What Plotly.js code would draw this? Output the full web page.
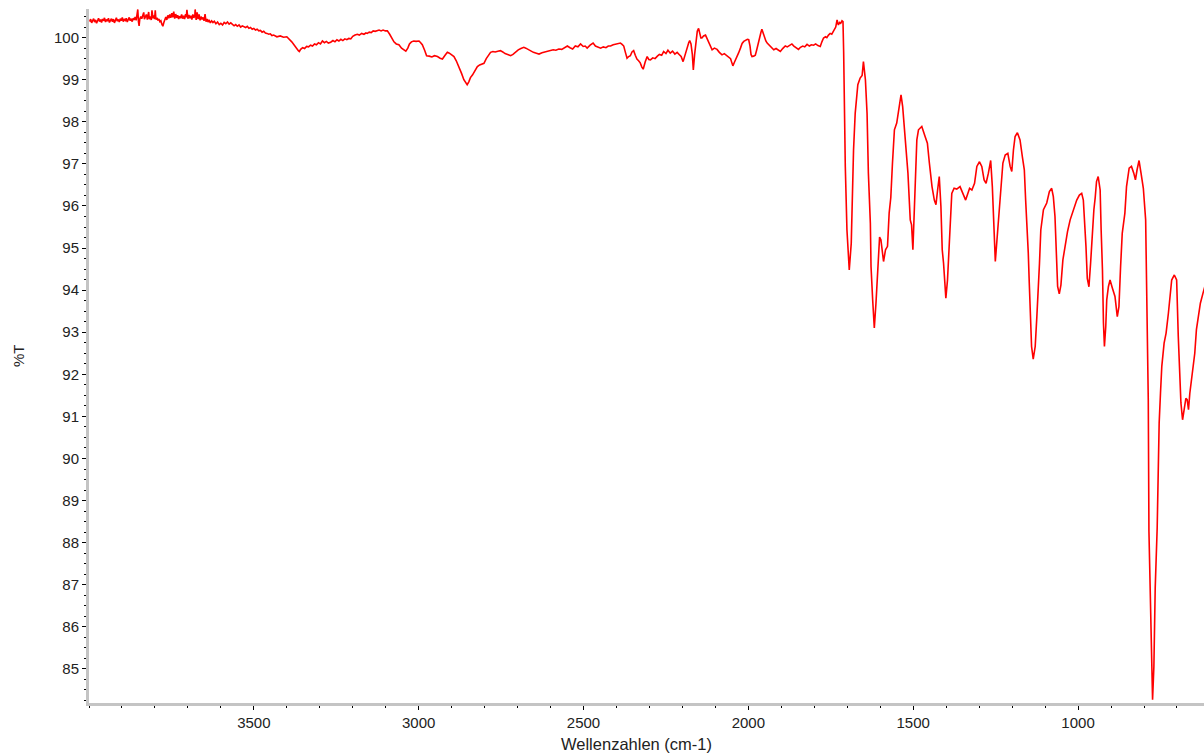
<!DOCTYPE html>
<html>
<head>
<meta charset="utf-8">
<script src="https://cdn.plot.ly/plotly-3.0.1.min.js"></script>
<style>html,body{margin:0;padding:0;background:#fff;}#chart{width:1204px;height:755px;}</style>
</head>
<body>
<div id="chart"></div>
<script>
// Wavenumbers (cm-1) and transmittance (%T)
const wavenumber = [3998,3995,3992,3989,3986,3983,3980,3977,3974,3971,3968,3965,3962,3959,3956,3953,3950,3947,3944,3941,3938,3935,3932,3929,3926,3923,3920,3917,3914,3911,3908,3905,3902,3899,3896,3893,3890,3887,3884,3881,3878,3875,3872,3869,3866,3863,3860,3857,3854,3852,3850,3848,3846,3843,3840,3837,3834,3832,3829,3826,3823,3821,3819,3817,3814,3811,3809,3806,3803,3801,3799,3797,3794,3791,3788,3785,3782,3779,3776,3773,3770,3767,3764,3761,3758,3755,3752,3749,3746,3743,3740,3737,3734,3731,3728,3725,3722,3719,3716,3713,3710,3707,3705,3703,3700,3697,3694,3691,3688,3685,3682,3679,3678,3675,3672,3669,3666,3663,3660,3657,3654,3651,3648,3645,3642,3639,3636,3632,3628,3624,3620,3615,3610,3605,3600,3595,3590,3585,3580,3575,3570,3565,3560,3555,3550,3545,3540,3535,3530,3525,3520,3515,3510,3505,3500,3495,3490,3485,3480,3475,3470,3465,3460,3455,3450,3445,3440,3435,3430,3420,3410,3400,3395,3390,3385,3380,3375,3370,3365,3362,3358,3352,3346,3340,3334,3328,3322,3316,3310,3304,3298,3292,3286,3280,3274,3267,3260,3254,3248,3242,3236,3230,3224,3218,3212,3206,3200,3193,3186,3180,3173,3166,3160,3156,3150,3144,3138,3132,3126,3120,3114,3108,3101,3095,3088,3082,3075,3068,3060,3052,3045,3039,3033,3028,3022,3015,3008,2999,2994,2989,2982,2976,2968,2960,2952,2943,2935,2928,2920,2913,2907,2900,2893,2886,2878,2870,2863,2856,2853,2848,2843,2837,2830,2822,2815,2808,2802,2795,2788,2782,2775,2768,2757,2752,2745,2738,2730,2721,2714,2706,2698,2690,2681,2675,2668,2660,2652,2643,2635,2626,2617,2608,2600,2592,2584,2575,2566,2557,2549,2541,2533,2525,2517,2509,2501,2495,2489,2480,2471,2464,2456,2448,2440,2432,2425,2418,2410,2402,2395,2388,2383,2378,2373,2368,2363,2358,2353,2348,2343,2338,2333,2328,2323,2319,2313,2307,2302,2297,2290,2283,2276,2270,2263,2257,2250,2244,2237,2230,2223,2216,2210,2204,2198,2192,2186,2181,2178,2174,2170,2167,2163,2159,2155,2151,2147,2144,2141,2136,2130,2125,2120,2115,2110,2103,2095,2088,2080,2073,2066,2060,2054,2050,2047,2042,2036,2030,2024,2019,2014,2008,2003,1999,1995,1992,1989,1984,1979,1975,1971,1966,1962,1959,1955,1951,1947,1943,1937,1930,1923,1916,1910,1903,1896,1888,1882,1875,1868,1862,1855,1848,1842,1835,1829,1822,1815,1809,1802,1796,1789,1782,1777,1772,1766,1762,1757,1752,1747,1742,1738,1735,1731,1729,1727,1723,1720,1716,1713,1711,1709,1706,1701,1697,1694,1688,1685,1681,1676,1668,1661,1655,1651,1645,1640,1636,1630,1628,1623,1618,1613,1608,1605,1602,1598,1594,1590,1584,1578,1573,1568,1563,1557,1550,1545,1537,1532,1527,1521,1516,1509,1505,1501,1497,1494,1489,1484,1474,1464,1457,1451,1443,1436,1431,1426,1421,1416,1412,1408,1401,1396,1391,1386,1383,1376,1368,1358,1350,1341,1329,1322,1314,1307,1299,1292,1285,1279,1272,1265,1260,1257,1254,1251,1246,1241,1236,1233,1228,1221,1213,1206,1201,1196,1191,1184,1176,1169,1163,1159,1154,1151,1148,1144,1141,1136,1130,1125,1120,1117,1113,1105,1095,1087,1080,1075,1070,1067,1065,1062,1057,1052,1046,1039,1032,1024,1014,1004,996,989,984,979,976,972,967,962,957,952,948,944,939,933,930,926,923,920,916,913,908,903,896,888,881,876,871,866,858,853,845,838,831,826,821,815,809,802,795,792,787,785,780,776,774,770,766,760,757,754,750,746,739,733,726,721,716,708,701,696,691,688,683,678,673,669,665,661,653,646,641,633,629,621,615];
const transmittance = [100.38,100.44,100.35,100.41,100.45,100.37,100.42,100.34,100.40,100.46,100.38,100.43,100.36,100.44,100.40,100.47,100.37,100.43,100.39,100.46,100.36,100.42,100.45,100.38,100.44,100.35,100.41,100.47,100.39,100.43,100.37,100.45,100.40,100.48,100.38,100.44,100.41,100.46,100.37,100.43,100.48,100.40,100.45,100.38,100.46,100.42,100.49,100.41,100.52,100.67,100.38,100.28,100.44,100.50,100.45,100.52,100.60,100.44,100.49,100.55,100.43,100.50,100.61,100.44,100.50,100.42,100.65,100.46,100.53,100.44,100.65,100.43,100.47,100.41,100.44,100.38,100.40,100.32,100.27,100.36,100.43,100.49,100.42,100.53,100.46,100.55,100.47,100.58,100.48,100.62,100.45,100.56,100.47,100.53,100.44,100.51,100.46,100.55,100.45,100.52,100.44,100.56,100.48,100.66,100.45,100.54,100.46,100.52,100.43,100.55,100.47,100.53,100.67,100.42,100.60,100.44,100.55,100.41,100.50,100.43,100.48,100.40,100.56,100.38,100.44,100.37,100.42,100.35,100.40,100.36,100.39,100.33,100.37,100.31,100.34,100.30,100.36,100.33,100.37,100.32,100.35,100.31,100.28,100.31,100.27,100.30,100.25,100.28,100.26,100.24,100.27,100.22,100.24,100.20,100.22,100.18,100.20,100.16,100.17,100.13,100.15,100.11,100.10,100.08,100.09,100.05,100.06,100.03,100.02,100.04,100.01,100.02,99.98,99.96,99.90,99.85,99.79,99.74,99.69,99.67,99.72,99.76,99.74,99.79,99.78,99.82,99.80,99.85,99.83,99.88,99.85,99.92,99.88,99.91,99.87,99.89,99.93,99.90,99.95,99.92,99.96,99.93,99.97,99.95,99.98,99.97,100.03,100.06,100.08,100.06,100.10,100.08,100.11,100.10,100.13,100.12,100.16,100.15,100.17,100.18,100.16,100.18,100.16,100.16,100.08,100.00,99.90,99.85,99.83,99.75,99.70,99.68,99.75,99.85,99.90,99.92,99.91,99.92,99.88,99.83,99.70,99.57,99.56,99.54,99.57,99.55,99.51,99.49,99.58,99.65,99.63,99.58,99.55,99.45,99.31,99.15,99.00,98.90,98.88,98.95,99.05,99.11,99.22,99.31,99.35,99.37,99.39,99.50,99.60,99.65,99.67,99.66,99.68,99.69,99.66,99.62,99.60,99.57,99.60,99.66,99.71,99.74,99.77,99.75,99.72,99.68,99.65,99.63,99.61,99.64,99.66,99.68,99.69,99.71,99.70,99.73,99.72,99.76,99.80,99.76,99.73,99.80,99.78,99.85,99.79,99.80,99.75,99.82,99.87,99.80,99.78,99.75,99.78,99.76,99.80,99.80,99.83,99.85,99.86,99.87,99.84,99.80,99.65,99.51,99.55,99.57,99.66,99.69,99.58,99.49,99.45,99.40,99.30,99.25,99.42,99.55,99.48,99.47,99.52,99.50,99.56,99.60,99.58,99.67,99.62,99.70,99.63,99.68,99.61,99.65,99.60,99.55,99.43,99.60,99.78,99.88,99.93,99.85,99.60,99.23,99.60,99.95,100.15,100.22,100.08,99.99,99.99,100.04,100.06,99.98,99.88,99.82,99.71,99.75,99.72,99.65,99.59,99.62,99.57,99.55,99.50,99.40,99.33,99.42,99.55,99.63,99.75,99.86,99.91,99.93,99.96,99.95,99.80,99.60,99.55,99.56,99.58,99.70,99.85,99.99,100.12,100.20,100.10,99.98,99.92,99.87,99.82,99.76,99.71,99.74,99.70,99.67,99.74,99.80,99.78,99.82,99.85,99.80,99.76,99.72,99.77,99.80,99.78,99.84,99.80,99.83,99.82,99.85,99.81,99.79,99.90,99.99,100.02,100.00,100.06,100.10,100.08,100.14,100.20,100.25,100.42,100.32,100.30,100.36,100.34,100.40,100.38,99.67,98.52,96.94,95.43,94.80,94.48,95.11,96.14,97.33,98.20,98.88,99.04,99.10,99.43,99.00,98.20,96.78,95.59,94.56,93.77,93.10,93.69,94.32,94.84,95.26,95.20,94.88,94.68,94.96,95.04,95.83,96.20,97.01,97.81,97.97,98.24,98.64,98.36,97.89,97.41,96.78,95.67,95.55,94.96,95.75,96.14,97.57,97.81,97.89,97.65,97.49,97.02,96.46,96.14,96.03,96.38,96.70,95.99,94.96,94.64,93.81,94.24,95.11,95.99,96.30,96.42,96.40,96.46,96.30,96.14,96.42,96.38,96.54,96.94,97.05,96.94,96.62,96.54,96.78,97.08,96.46,95.67,95.35,94.68,95.19,95.67,96.14,96.46,97.02,97.21,97.25,96.94,96.82,97.33,97.65,97.74,97.57,97.17,96.86,96.14,95.43,94.88,94.17,93.37,92.66,92.36,92.66,93.37,94.00,94.64,95.43,95.91,96.07,96.34,96.42,96.22,95.75,95.19,94.56,94.09,93.91,94.12,94.72,95.11,95.39,95.67,95.91,96.14,96.26,96.30,96.14,95.51,95.04,94.28,94.08,94.64,95.35,95.91,96.20,96.58,96.70,96.38,95.43,94.48,93.22,92.66,93.13,93.77,94.08,94.24,94.05,93.85,93.37,93.61,94.56,95.35,95.83,96.46,96.90,96.94,96.78,96.62,96.86,97.08,96.78,96.42,95.67,93.93,91.39,88.27,86.01,84.50,84.27,85.06,86.92,88.35,89.81,90.84,91.55,92.19,92.74,92.98,93.45,93.93,94.24,94.36,94.24,92.90,91.79,91.32,90.92,91.24,91.43,91.40,91.16,91.55,92.03,92.50,93.06,93.45,93.69,93.93,94.10];
const xTickValues = [3500, 3000, 2500, 2000, 1500, 1000];
const xTickLabels = ["3500", "3000", "2500", "2000", "1500", "1000"];
const yTickValues = [85,86,87,88,89,90,91,92,93,94,95,96,97,98,99,100];
const yTickLabels = yTickValues.map(String);
const xTitle = 'Wellenzahlen (cm-1)';
const yTitle = '%T';

const FONT = '"Liberation Sans", Arial, sans-serif';

const trace = {
  x: wavenumber,
  y: transmittance,
  type: 'scatter',
  mode: 'lines',
  line: {color: '#ff0000', width: 1.6},
  hoverinfo: 'x+y'
};

const axisCommon = {
  autorange: false,
  tickmode: 'array',
  ticks: 'outside',
  ticklen: 4,
  tickwidth: 1,
  tickcolor: '#000000',
  showline: true,
  linecolor: '#c4c4c4',
  linewidth: 3,
  showgrid: false,
  zeroline: false,
  tickfont: {family: FONT, size: 15, color: '#222222'}
};

const layout = {
  width: 1204,
  height: 755,
  margin: {l: 89, r: 0, t: 9, b: 52, pad: 0},
  paper_bgcolor: '#ffffff',
  plot_bgcolor: '#ffffff',
  showlegend: false,
  font: {family: FONT, size: 15, color: '#222222'},
  xaxis: Object.assign({}, axisCommon, {
    range: [4000, 618],
    tickvals: xTickValues,
    ticktext: xTickLabels,
    minor: {dtick: 100, tick0: 0, ticks: 'outside', ticklen: 2, tickwidth: 1, tickcolor: '#000000', showgrid: false}
  }),
  yaxis: Object.assign({}, axisCommon, {
    range: [84.19, 100.68],
    tickvals: yTickValues,
    ticktext: yTickLabels,
    minor: {dtick: 0.25, tick0: 0, ticks: 'outside', ticklen: 2, tickwidth: 1, tickcolor: '#000000', showgrid: false}
  }),
  annotations: [
    {text: xTitle, xref: 'paper', yref: 'paper', x: 0.491, y: 0, yshift: -41, xanchor: 'center', yanchor: 'middle',
     showarrow: false, font: {family: FONT, size: 16.5, color: '#222222'}},
    {text: yTitle, xref: 'paper', yref: 'paper', x: 0, xshift: -71, y: 0.5, xanchor: 'center', yanchor: 'middle',
     textangle: -90, showarrow: false, font: {family: FONT, size: 15, color: '#222222'}}
  ]
};

Plotly.newPlot('chart', [trace], layout, {displayModeBar: false, staticPlot: true});
</script>
</body>
</html>
